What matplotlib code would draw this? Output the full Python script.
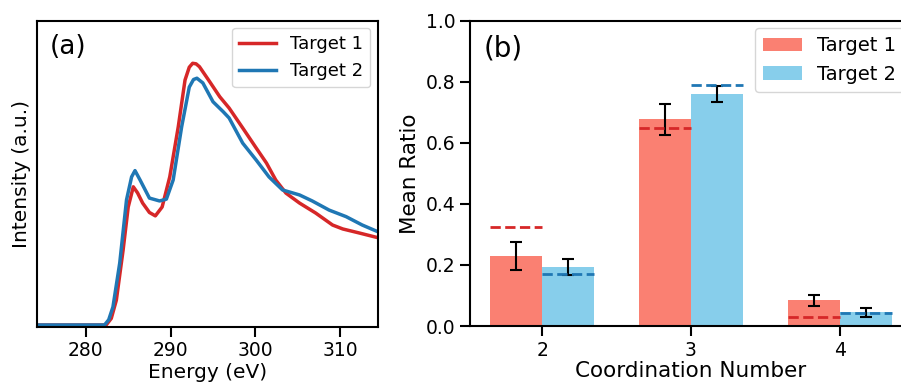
import numpy as np
import matplotlib.pyplot as plt

# Panel (a): spectra (energy in eV, intensity normalised)
energia_1 = [274.3, 280.0, 282.4, 283.0, 283.6, 284.4, 285.0, 285.6, 286.1, 286.7, 287.5, 288.2,
             289.0, 289.9, 290.9, 291.7, 292.2, 292.6, 293.0, 293.4, 294.6, 295.8, 296.9, 298.5,
             300.1, 301.3, 302.4, 303.6, 305.2, 307.1, 309.1, 310.3, 312.2, 314.4]
target_1 = [0.0, 0.0, 0.0, 0.025, 0.095, 0.287, 0.451, 0.528, 0.505, 0.466, 0.430, 0.417,
            0.451, 0.566, 0.757, 0.936, 0.985, 1.0, 0.998, 0.987, 0.930, 0.872, 0.829, 0.753,
            0.676, 0.619, 0.554, 0.504, 0.466, 0.428, 0.382, 0.367, 0.352, 0.334]

energia_2 = [274.3, 280.0, 282.2, 282.7, 283.2, 284.0, 284.8, 285.4, 285.8, 286.4, 287.5, 288.7,
             289.5, 290.3, 291.3, 292.2, 292.7, 293.1, 293.8, 295.0, 296.2, 296.9, 298.5, 300.1,
             301.6, 303.2, 305.2, 306.7, 308.7, 310.7, 312.6, 314.4]
target_2 = [0.0, 0.0, 0.0, 0.02, 0.069, 0.237, 0.478, 0.566, 0.590, 0.554, 0.485, 0.474,
            0.481, 0.554, 0.757, 0.909, 0.938, 0.943, 0.925, 0.853, 0.815, 0.791, 0.695, 0.630,
            0.566, 0.516, 0.497, 0.474, 0.439, 0.414, 0.382, 0.357]

# Panel (b): mean ratio per coordination number
coordinacion = [2, 3, 4]
media_1 = [0.229, 0.677, 0.084]
error_1 = [0.045, 0.050, 0.019]
media_2 = [0.194, 0.760, 0.045]
error_2 = [0.026, 0.025, 0.014]
referencia_1 = [0.324, 0.650, 0.028]
referencia_2 = [0.171, 0.788, 0.043]

plt.rcParams['font.family'] = 'DejaVu Sans'
plt.rcParams['axes.linewidth'] = 1.5
for eje in ('xtick', 'ytick'):
    plt.rcParams[eje + '.major.width'] = 1.5
    plt.rcParams[eje + '.major.size'] = 7
    plt.rcParams[eje + '.labelsize'] = 13.5

fig = plt.figure(figsize=(9.01, 3.85), dpi=100)

# --- (a) ---
ax1 = fig.add_axes([0.0416, 0.1514, 0.3774, 0.795])
ax1.plot(energia_1, target_1, color='#d62728', lw=2.5, label='Target 1')
ax1.plot(energia_2, target_2, color='#1f77b4', lw=2.5, label='Target 2')
ax1.set_xlim(274.3, 314.4)
ax1.set_ylim(-0.0065, 1.163)
ax1.set_yticks([])
ax1.set_xticks([280, 290, 300, 310])
ax1.set_xlabel('Energy (eV)', fontsize=14.5, labelpad=2)
ax1.set_ylabel('Intensity (a.u.)', fontsize=14.5, labelpad=5)
ax1.text(0.035, 0.955, '(a)', transform=ax1.transAxes, fontsize=19, va='top')
ax1.legend(loc='upper right', fontsize=13, handlelength=2.0, borderaxespad=0.4)

# --- (b) ---
ancho = 0.35
x = np.array(coordinacion, dtype=float)
ax2 = fig.add_axes([0.5216, 0.1532, 0.4906, 0.793])
ax2.bar(x - ancho / 2, media_1, ancho, color='#fa8072', label='Target 1')
ax2.bar(x + ancho / 2, media_2, ancho, color='#87ceeb', label='Target 2')
ax2.errorbar(x - ancho / 2, media_1, yerr=error_1, fmt='none', ecolor='black',
             elinewidth=1.5, capsize=4.5, capthick=1.5)
ax2.errorbar(x + ancho / 2, media_2, yerr=error_2, fmt='none', ecolor='black',
             elinewidth=1.5, capsize=4.5, capthick=1.5)
ax2.hlines(referencia_1, x - ancho, x, colors='#d62728', linestyles='--', lw=2)
ax2.hlines(referencia_2, x, x + ancho, colors='#1f77b4', linestyles='--', lw=2)
ax2.set_xlim(1.515, 4.485)
ax2.set_ylim(0, 1.0)
ax2.set_xticks(coordinacion)
ax2.set_yticks([0.0, 0.2, 0.4, 0.6, 0.8, 1.0])
ax2.spines['right'].set_visible(False)
ax2.set_xlabel('Coordination Number', fontsize=15.5, labelpad=1)
ax2.set_ylabel('Mean Ratio', fontsize=15.5, labelpad=4)
ax2.text(0.03, 0.955, '(b)', transform=ax2.transAxes, fontsize=20, va='top')
ax2.legend(loc='upper right', fontsize=14, handlelength=2.0, borderaxespad=0.4)

fig.savefig('out.png', dpi=100)
